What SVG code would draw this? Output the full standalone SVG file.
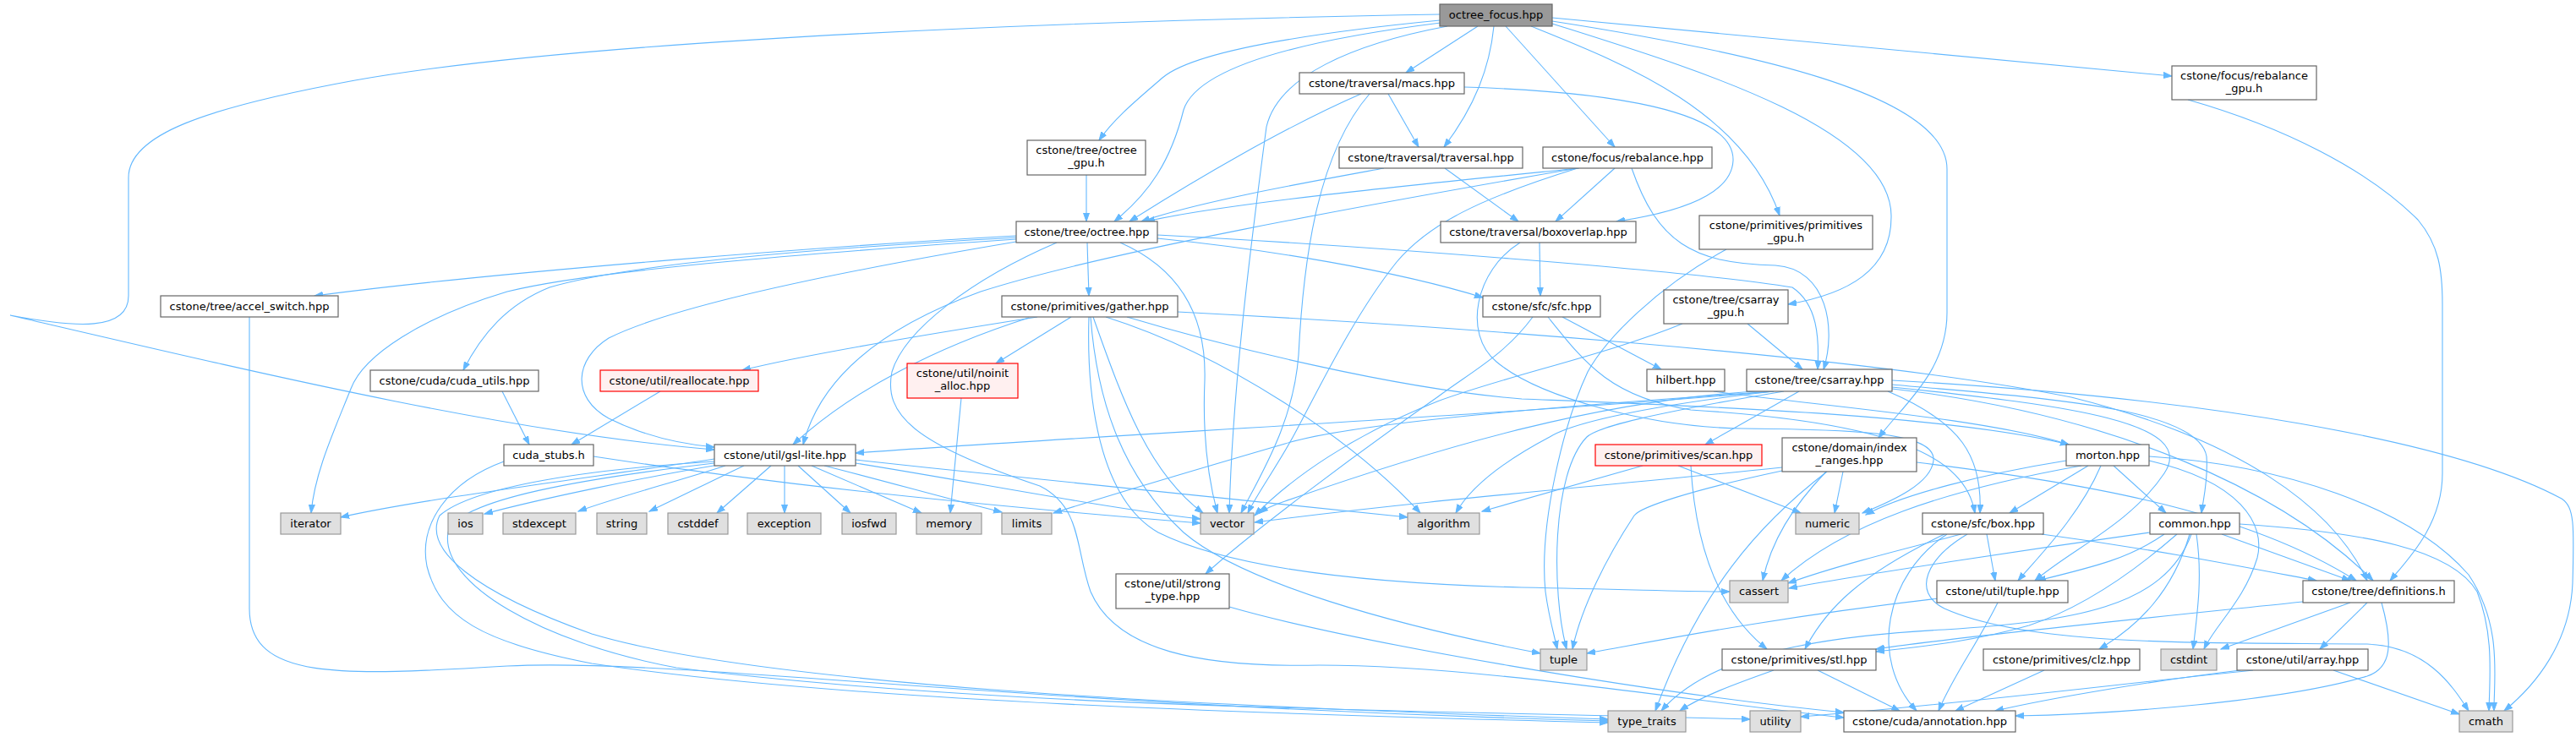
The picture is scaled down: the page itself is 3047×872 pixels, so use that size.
<svg xmlns="http://www.w3.org/2000/svg" width="3047" height="872" viewBox="0 0 3047 872">
<style>
.e path{fill:none;stroke:#63B8FF;stroke-width:1.1;marker-end:url(#a)}
.n rect{fill:#fff;stroke:#666;stroke-width:1.2}
.s rect{fill:#E0E0E0;stroke:#999;stroke-width:1.2}
.r rect{fill:#FFF0F0;stroke:#F00;stroke-width:1.2}
.root rect{fill:#999;stroke:#666;stroke-width:1.2}
text{font-family:"DejaVu Sans","Liberation Sans",sans-serif;font-size:13px;fill:#000;text-anchor:middle}
</style>
<defs>
<marker id="a" markerWidth="11" markerHeight="8" refX="10" refY="4" orient="auto" markerUnits="userSpaceOnUse"><path d="M0,0.5 L10,4 L0,7.5z" fill="#63B8FF" stroke="#63B8FF" stroke-width="1"/></marker>
</defs>
<rect width="3047" height="872" fill="#fff"/>
<g class="e" id="edges">
<path d="M1703,17 C1300,24 700,45 420,95 C240,128 152,160 152,210 L152,350 C152,392 90,388 12,373 C300,440 600,512 845,532"/>
<path d="M1703,24 C1540,40 1410,62 1375,92 C1345,118 1318,140 1300,166"/>
<path d="M1704,27 C1560,45 1418,75 1400,130 C1385,190 1360,228 1318,262"/>
<path d="M1712,31 C1600,52 1512,90 1498,150 C1478,300 1458,460 1454,607"/>
<path d="M1748,31 L1663,86"/>
<path d="M1767,31 C1762,80 1745,125 1708,174"/>
<path d="M1781,31 L1910,174"/>
<path d="M1811,31 C1920,75 2062,130 2105,255"/>
<path d="M1836,28 C2000,80 2236,150 2237,255 C2238,320 2185,348 2115,360"/>
<path d="M1836,25 C2060,60 2303,110 2303,200 L2303,370 C2303,440 2250,480 2222,518"/>
<path d="M1836,21 L2569,90"/>
<path d="M1285,207 L1285,262"/>
<path d="M1642,111 L1678,174"/>
<path d="M1732,103 C1900,108 2052,130 2050,190 C2048,232 1980,252 1912,262"/>
<path d="M1610,111 C1520,150 1410,215 1336,262"/>
<path d="M1620,111 C1560,180 1542,300 1536,420 C1530,500 1492,560 1468,607"/>
<path d="M1709,199 L1796,262"/>
<path d="M1637,199 C1550,215 1420,238 1350,262"/>
<path d="M1910,199 L1840,262"/>
<path d="M1930,199 C1960,285 2000,312 2100,314 C2162,318 2172,390 2157,437"/>
<path d="M1868,199 C1700,216 1450,240 1356,262"/>
<path d="M1866,199 C1600,245 1300,300 1160,345 C1030,392 968,455 950,526"/>
<path d="M1866,199 C1750,235 1690,265 1652,310 C1600,375 1555,470 1532,512 C1512,550 1488,582 1476,607"/>
<path d="M2042,295 C1960,340 1900,400 1878,440 C1850,500 1820,620 1828,700 C1832,730 1838,750 1842,768"/>
<path d="M2067,383 L2132,437"/>
<path d="M1990,383 C1900,420 1780,445 1700,475 C1600,515 1528,565 1484,610"/>
<path d="M1821,287 L1822,350"/>
<path d="M1798,287 C1745,320 1730,395 1770,428 C1820,470 1950,505 2060,507 C2200,508 2290,512 2287,545 C2284,572 2240,592 2203,607"/>
<path d="M1202,279 C1000,290 600,320 372,350"/>
<path d="M1202,281 C1000,292 750,310 650,340 C600,360 570,395 548,438"/>
<path d="M1202,283 C950,300 700,320 600,345 C500,375 430,420 415,460 C395,510 372,560 368,607"/>
<path d="M1202,286 C1000,320 800,360 720,400 C680,425 675,470 720,495 C760,515 800,525 845,529"/>
<path d="M1286,287 L1288,350"/>
<path d="M1325,287 C1400,320 1427,380 1425,450 C1422,520 1430,570 1440,607"/>
<path d="M1369,282 C1500,295 1650,320 1754,352"/>
<path d="M1369,278 C1600,290 2000,320 2120,340 C2150,360 2152,400 2150,437"/>
<path d="M1250,287 C1150,330 1070,390 1055,440 C1045,490 1080,525 1230,575 C1280,600 1272,650 1290,700 C1320,770 1420,790 1560,787 C1750,787 2000,830 2181,849"/>
<path d="M1227,375 C1100,395 950,420 878,438"/>
<path d="M1217,376 C1110,410 1010,460 938,526"/>
<path d="M1267,375 L1178,430"/>
<path d="M1293,375 C1330,480 1360,560 1423,607"/>
<path d="M1308,375 C1450,420 1600,520 1680,607"/>
<path d="M1288,375 C1285,470 1300,590 1370,630 C1450,670 1600,690 1800,695 C1950,698 2000,700 2046,700"/>
<path d="M1290,375 C1298,480 1330,565 1400,630 C1470,690 1650,740 1822,773"/>
<path d="M1333,375 C1450,410 1650,460 1800,472 C2000,480 2300,490 2447,526"/>
<path d="M1393,369 C1700,385 2200,420 2450,470 C2650,520 2760,600 2800,687"/>
<path d="M781,463 L676,526"/>
<path d="M594,463 L626,526"/>
<path d="M1137,471 L1124,607"/>
<path d="M295,375 L295,720 C295,805 400,800 600,788 C800,778 1200,835 1902,853"/>
<path d="M845,543 C700,565 500,590 403,612"/>
<path d="M850,550 C760,565 640,590 573,608"/>
<path d="M858,551 C800,570 730,588 684,605"/>
<path d="M880,551 C840,570 800,590 768,605"/>
<path d="M912,551 L848,607"/>
<path d="M928,551 L928,607"/>
<path d="M944,551 L1006,607"/>
<path d="M960,551 L1090,607"/>
<path d="M975,551 C1050,570 1120,590 1185,606"/>
<path d="M1012,548 C1150,570 1300,600 1420,614"/>
<path d="M1012,544 C1250,570 1500,595 1665,612"/>
<path d="M845,546 C700,555 560,575 520,610 C500,650 560,700 700,750 C900,810 1400,835 1902,851"/>
<path d="M845,548 C700,565 540,590 530,630 C520,690 640,760 800,790 C1200,840 1700,840 2070,851"/>
<path d="M596,546 C530,570 495,620 505,670 C520,730 570,760 700,785 C1000,830 1500,845 1902,855"/>
<path d="M702,540 C800,555 1000,585 1420,619"/>
<path d="M2128,463 L2017,526"/>
<path d="M2098,463 C1800,490 1300,515 1012,536"/>
<path d="M2098,463 C1850,480 1600,500 1520,525 C1400,560 1300,590 1246,607"/>
<path d="M2098,463 C1950,480 1860,500 1833,517 C1780,545 1740,575 1722,607"/>
<path d="M2110,463 C1950,490 1890,505 1877,517 C1835,560 1835,700 1853,768"/>
<path d="M2098,462 C1900,470 1700,530 1520,593 C1505,598 1495,603 1490,607"/>
<path d="M2233,463 C2320,500 2345,540 2342,607"/>
<path d="M2238,455 C2400,470 2600,480 2610,540 C2612,570 2606,590 2604,607"/>
<path d="M2238,458 C2450,480 2600,500 2560,560 C2520,620 2450,650 2407,687"/>
<path d="M2238,460 C2500,490 2700,580 2807,687"/>
<path d="M2238,450 C2600,470 2900,520 3030,590 C3045,600 3045,620 3043,690 C3040,760 3000,810 2962,841"/>
<path d="M2027,463 C2150,480 2350,495 2447,526"/>
<path d="M1848,375 L1965,437"/>
<path d="M1813,375 C1780,420 1740,440 1700,470 C1600,540 1480,630 1426,679"/>
<path d="M1831,375 C1875,430 1905,470 2000,485 C2240,500 2325,540 2336,607"/>
<path d="M1943,551 L1753,605"/>
<path d="M1985,551 L2130,607"/>
<path d="M2000,551 C2005,640 2030,720 2090,768"/>
<path d="M2160,558 C2120,600 2095,640 2085,687"/>
<path d="M2180,558 L2170,607"/>
<path d="M2267,547 C2450,570 2650,600 2787,687"/>
<path d="M2108,557 C2000,580 1940,600 1933,610 C1900,660 1870,720 1860,768"/>
<path d="M2108,553 C1900,575 1700,590 1484,618"/>
<path d="M2161,558 C2080,620 2010,700 1958,841"/>
<path d="M2470,551 L2377,607"/>
<path d="M2485,551 C2460,610 2410,660 2387,687"/>
<path d="M2500,551 L2562,607"/>
<path d="M2462,551 C2300,580 2180,620 2107,687"/>
<path d="M2542,545 C2650,570 2680,620 2670,660 C2655,710 2620,740 2607,768"/>
<path d="M2542,540 C2700,550 2850,600 2920,680 C2960,740 2950,800 2950,841"/>
<path d="M2444,545 C2350,560 2250,585 2207,609"/>
<path d="M2320,632 C2250,650 2170,670 2115,690"/>
<path d="M2300,632 C2200,680 2160,720 2135,768"/>
<path d="M2303,632 C2230,680 2210,780 2267,841"/>
<path d="M2350,632 L2360,687"/>
<path d="M2415,632 C2550,650 2650,670 2740,687"/>
<path d="M2327,632 C2280,660 2260,700 2300,720 C2400,765 2600,760 2800,762 C2870,765 2900,810 2920,841"/>
<path d="M2628,632 L2780,687"/>
<path d="M2649,620 C2800,630 2900,650 2930,700 C2950,750 2945,800 2944,841"/>
<path d="M2598,632 C2605,680 2600,720 2594,768"/>
<path d="M2590,632 C2570,700 2530,740 2483,768"/>
<path d="M2560,632 C2520,660 2480,670 2410,687"/>
<path d="M2543,630 C2400,650 2200,680 2116,696"/>
<path d="M2575,632 C2520,680 2460,720 2400,740 C2330,760 2270,765 2219,771"/>
<path d="M2592,632 C2560,720 2450,735 2300,745 C2100,755 2010,790 1965,841"/>
<path d="M2588,118 C2700,150 2800,200 2860,260 C2885,290 2889,320 2889,360 L2889,560 C2889,620 2850,660 2827,687"/>
<path d="M2780,713 L2627,768"/>
<path d="M2800,713 L2744,768"/>
<path d="M2817,713 C2830,760 2830,790 2800,800 C2700,830 2500,845 2384,847"/>
<path d="M2724,712 C2600,725 2300,755 2219,768"/>
<path d="M2760,793 L2909,845"/>
<path d="M2650,793 C2550,805 2430,825 2360,841"/>
<path d="M2665,793 C2500,810 2300,835 2130,848"/>
<path d="M2418,793 L2313,841"/>
<path d="M2363,713 C2340,760 2310,800 2293,841"/>
<path d="M2293,708 C2100,730 1950,760 1877,773"/>
<path d="M2098,793 C2050,810 2010,825 1987,841"/>
<path d="M2150,793 L2247,841"/>
<path d="M1454,718 C1600,760 1950,820 2181,843"/>
</g>
<g id="n_octree_focus" class="root"><rect x="1703" y="5" width="133" height="26"/><text x="1769.5" y="22">octree_focus.hpp</text></g>
<g id="n_macs" class="n"><rect x="1537" y="86" width="195" height="25"/><text x="1634.5" y="103">cstone/traversal/macs.hpp</text></g>
<g id="n_traversal" class="n"><rect x="1584" y="174" width="217" height="25"/><text x="1692.5" y="191">cstone/traversal/traversal.hpp</text></g>
<g id="n_rebalance" class="n"><rect x="1825" y="174" width="200" height="25"/><text x="1925" y="191">cstone/focus/rebalance.hpp</text></g>
<g id="n_boxoverlap" class="n"><rect x="1704" y="262" width="231" height="25"/><text x="1819.5" y="279">cstone/traversal/boxoverlap.hpp</text></g>
<g id="n_primitives_gpu" class="n"><rect x="2010" y="255" width="205" height="40"/><text x="2112.5" y="271">cstone/primitives/primitives</text><text x="2112.5" y="286">_gpu.h</text></g>
<g id="n_sfc" class="n"><rect x="1754" y="350" width="139" height="25"/><text x="1823.5" y="367">cstone/sfc/sfc.hpp</text></g>
<g id="n_csarray_gpu" class="n"><rect x="1968" y="343" width="147" height="40"/><text x="2041.5" y="359">cstone/tree/csarray</text><text x="2041.5" y="374">_gpu.h</text></g>
<g id="n_hilbert" class="n"><rect x="1948" y="437" width="92" height="26"/><text x="1994" y="454">hilbert.hpp</text></g>
<g id="n_csarray" class="n"><rect x="2066" y="437" width="172" height="26"/><text x="2152" y="454">cstone/tree/csarray.hpp</text></g>
<g id="n_rebalance_gpu" class="n"><rect x="2569" y="78" width="171" height="40"/><text x="2654.5" y="94">cstone/focus/rebalance</text><text x="2654.5" y="109">_gpu.h</text></g>
<g id="n_octree_gpu" class="n"><rect x="1215" y="166" width="140" height="41"/><text x="1285" y="182">cstone/tree/octree</text><text x="1285" y="197">_gpu.h</text></g>
<g id="n_octree" class="n"><rect x="1202" y="262" width="167" height="25"/><text x="1285.5" y="279">cstone/tree/octree.hpp</text></g>
<g id="n_gather" class="n"><rect x="1185" y="350" width="208" height="25"/><text x="1289" y="367">cstone/primitives/gather.hpp</text></g>
<g id="n_accel_switch" class="n"><rect x="190" y="350" width="210" height="25"/><text x="295" y="367">cstone/tree/accel_switch.hpp</text></g>
<g id="n_cuda_utils" class="n"><rect x="438" y="438" width="199" height="25"/><text x="537.5" y="455">cstone/cuda/cuda_utils.hpp</text></g>
<g id="n_reallocate" class="r"><rect x="710" y="438" width="187" height="25"/><text x="803.5" y="455">cstone/util/reallocate.hpp</text></g>
<g id="n_noinit_alloc" class="r"><rect x="1073" y="430" width="131" height="41"/><text x="1138.5" y="446">cstone/util/noinit</text><text x="1138.5" y="461">_alloc.hpp</text></g>
<g id="n_gsl_lite" class="n"><rect x="845" y="526" width="167" height="25"/><text x="928.5" y="543">cstone/util/gsl-lite.hpp</text></g>
<g id="n_cuda_stubs" class="n"><rect x="596" y="526" width="106" height="25"/><text x="649" y="543">cuda_stubs.h</text></g>
<g id="n_iterator" class="s"><rect x="332" y="607" width="71" height="25"/><text x="367.5" y="624">iterator</text></g>
<g id="n_ios" class="s"><rect x="530" y="607" width="41" height="25"/><text x="550.5" y="624">ios</text></g>
<g id="n_stdexcept" class="s"><rect x="595" y="607" width="86" height="25"/><text x="638" y="624">stdexcept</text></g>
<g id="n_string" class="s"><rect x="706" y="607" width="59" height="25"/><text x="735.5" y="624">string</text></g>
<g id="n_cstddef" class="s"><rect x="790" y="607" width="71" height="25"/><text x="825.5" y="624">cstddef</text></g>
<g id="n_exception" class="s"><rect x="884" y="607" width="87" height="25"/><text x="927.5" y="624">exception</text></g>
<g id="n_iosfwd" class="s"><rect x="996" y="607" width="64" height="25"/><text x="1028" y="624">iosfwd</text></g>
<g id="n_memory" class="s"><rect x="1084" y="607" width="77" height="25"/><text x="1122.5" y="624">memory</text></g>
<g id="n_limits" class="s"><rect x="1185" y="607" width="59" height="25"/><text x="1214.5" y="624">limits</text></g>
<g id="n_vector" class="s"><rect x="1420" y="607" width="63" height="25"/><text x="1451.5" y="624">vector</text></g>
<g id="n_algorithm" class="s"><rect x="1665" y="607" width="85" height="25"/><text x="1707.5" y="624">algorithm</text></g>
<g id="n_numeric" class="s"><rect x="2124" y="607" width="75" height="25"/><text x="2161.5" y="624">numeric</text></g>
<g id="n_cassert" class="s"><rect x="2046" y="687" width="69" height="26"/><text x="2080.5" y="704">cassert</text></g>
<g id="n_tuple" class="s"><rect x="1822" y="768" width="55" height="25"/><text x="1849.5" y="785">tuple</text></g>
<g id="n_stl" class="n"><rect x="2037" y="768" width="182" height="25"/><text x="2128" y="785">cstone/primitives/stl.hpp</text></g>
<g id="n_type_traits" class="s"><rect x="1902" y="841" width="92" height="25"/><text x="1948" y="858">type_traits</text></g>
<g id="n_utility" class="s"><rect x="2070" y="841" width="60" height="25"/><text x="2100" y="858">utility</text></g>
<g id="n_annotation" class="n"><rect x="2181" y="841" width="203" height="25"/><text x="2282.5" y="858">cstone/cuda/annotation.hpp</text></g>
<g id="n_scan" class="r"><rect x="1887" y="526" width="197" height="25"/><text x="1985.5" y="543">cstone/primitives/scan.hpp</text></g>
<g id="n_index_ranges" class="n"><rect x="2108" y="518" width="159" height="40"/><text x="2187.5" y="534">cstone/domain/index</text><text x="2187.5" y="549">_ranges.hpp</text></g>
<g id="n_morton" class="n"><rect x="2444" y="526" width="98" height="25"/><text x="2493" y="543">morton.hpp</text></g>
<g id="n_box" class="n"><rect x="2274" y="607" width="143" height="25"/><text x="2345.5" y="624">cstone/sfc/box.hpp</text></g>
<g id="n_common" class="n"><rect x="2543" y="607" width="106" height="25"/><text x="2596" y="624">common.hpp</text></g>
<g id="n_util_tuple" class="n"><rect x="2291" y="687" width="155" height="26"/><text x="2368.5" y="704">cstone/util/tuple.hpp</text></g>
<g id="n_definitions" class="n"><rect x="2724" y="687" width="179" height="26"/><text x="2813.5" y="704">cstone/tree/definitions.h</text></g>
<g id="n_clz" class="n"><rect x="2346" y="768" width="185" height="25"/><text x="2438.5" y="785">cstone/primitives/clz.hpp</text></g>
<g id="n_cstdint" class="s"><rect x="2556" y="768" width="66" height="25"/><text x="2589" y="785">cstdint</text></g>
<g id="n_array" class="n"><rect x="2646" y="768" width="155" height="25"/><text x="2723.5" y="785">cstone/util/array.hpp</text></g>
<g id="n_cmath" class="s"><rect x="2909" y="841" width="63" height="25"/><text x="2940.5" y="858">cmath</text></g>
<g id="n_strong_type" class="n"><rect x="1320" y="679" width="134" height="41"/><text x="1387" y="695">cstone/util/strong</text><text x="1387" y="710">_type.hpp</text></g>
</svg>
